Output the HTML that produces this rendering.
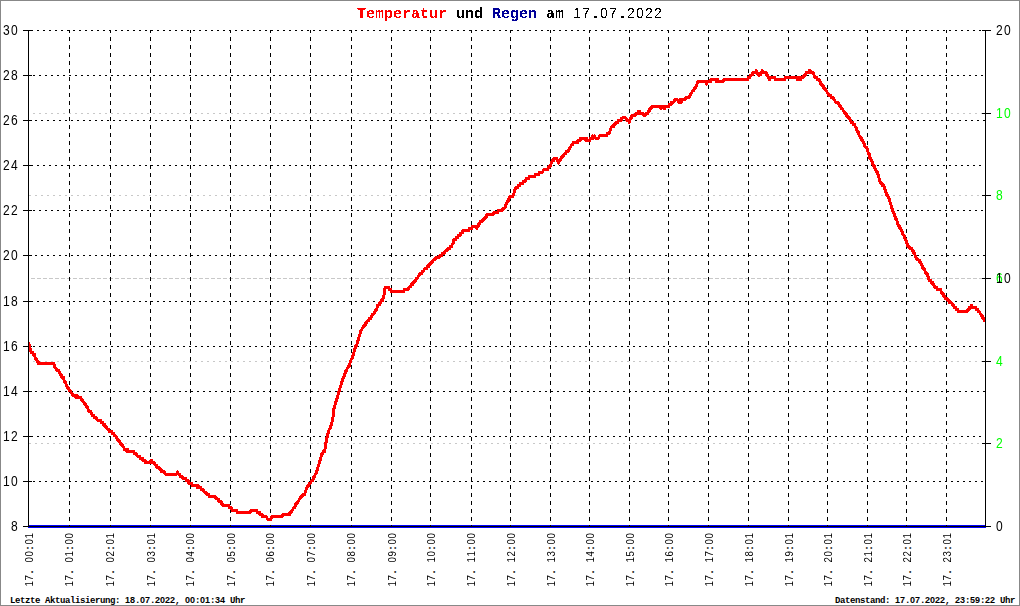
<!DOCTYPE html>
<html><head><meta charset="utf-8"><style>
html,body{margin:0;padding:0;background:#fff;}
#c{position:relative;width:1020px;height:606px;overflow:hidden;}
svg{position:absolute;left:0;top:0;}
.t{position:absolute;display:flex;align-items:baseline;white-space:pre;color:#000;}
.title{filter:url(#thr);}
.t span{display:block;text-align:left;flex:none;}
.m{font-family:"Liberation Mono",monospace;}
.d{font-family:"Liberation Sans",sans-serif;}
.yl{font-size:14px;line-height:16px;}
.yl span{transform:scaleX(0.86);transform-origin:0 0;}
.xl{font-size:11px;line-height:12px;}
.xl span.d{transform:scaleX(0.88);transform-origin:70% 0;}
.xl span.p{font-weight:bold;transform:none;text-align:center;}
.title{font-size:15px;line-height:18px;font-weight:bold;}
.title span.d{font-weight:normal;font-size:14px;}
.foot{font-size:9px;line-height:10px;font-weight:bold;}
.foot span.d{font-size:9px;}
</style></head><body><div id="c">
<svg width="0" height="0" style="position:absolute"><defs><filter id="thr" x="-10%" y="-10%" width="120%" height="120%" color-interpolation-filters="sRGB"><feComponentTransfer><feFuncA type="discrete" tableValues="0 1"/></feComponentTransfer></filter></defs></svg>
<svg width="1020" height="606" viewBox="0 0 1020 606" shape-rendering="crispEdges">
<rect x="0.5" y="0.5" width="1019" height="605" fill="#fff" stroke="#888" stroke-width="1"/>
<line x1="29" y1="113.5" x2="985" y2="113.5" stroke="#c8c8c8" stroke-dasharray="2 4" stroke-dashoffset="2"/>
<line x1="29" y1="195.5" x2="985" y2="195.5" stroke="#c8c8c8" stroke-dasharray="2 4" stroke-dashoffset="0"/>
<line x1="29" y1="278.5" x2="985" y2="278.5" stroke="#c8c8c8" stroke-dasharray="2 4" stroke-dashoffset="4"/>
<line x1="29" y1="278.5" x2="985" y2="278.5" stroke="#c8c8c8" stroke-dasharray="2 4" stroke-dashoffset="2"/>
<line x1="29" y1="361.5" x2="985" y2="361.5" stroke="#c8c8c8" stroke-dasharray="2 4" stroke-dashoffset="2"/>
<line x1="29" y1="443.5" x2="985" y2="443.5" stroke="#c8c8c8" stroke-dasharray="2 4" stroke-dashoffset="0"/>
<line x1="69.5" y1="30" x2="69.5" y2="526" stroke="#000" stroke-dasharray="4 4" stroke-dashoffset="1"/>
<line x1="110.5" y1="30" x2="110.5" y2="526" stroke="#000" stroke-dasharray="4 4" stroke-dashoffset="1"/>
<line x1="150.5" y1="30" x2="150.5" y2="526" stroke="#000" stroke-dasharray="4 4" stroke-dashoffset="1"/>
<line x1="190.5" y1="30" x2="190.5" y2="526" stroke="#000" stroke-dasharray="4 4" stroke-dashoffset="1"/>
<line x1="230.5" y1="30" x2="230.5" y2="526" stroke="#000" stroke-dasharray="4 4" stroke-dashoffset="1"/>
<line x1="270.5" y1="30" x2="270.5" y2="526" stroke="#000" stroke-dasharray="4 4" stroke-dashoffset="1"/>
<line x1="310.5" y1="30" x2="310.5" y2="526" stroke="#000" stroke-dasharray="4 4" stroke-dashoffset="1"/>
<line x1="351.5" y1="30" x2="351.5" y2="526" stroke="#000" stroke-dasharray="4 4" stroke-dashoffset="1"/>
<line x1="391.5" y1="30" x2="391.5" y2="526" stroke="#000" stroke-dasharray="4 4" stroke-dashoffset="1"/>
<line x1="430.5" y1="30" x2="430.5" y2="526" stroke="#000" stroke-dasharray="4 4" stroke-dashoffset="1"/>
<line x1="471.5" y1="30" x2="471.5" y2="526" stroke="#000" stroke-dasharray="4 4" stroke-dashoffset="1"/>
<line x1="510.5" y1="30" x2="510.5" y2="526" stroke="#000" stroke-dasharray="4 4" stroke-dashoffset="1"/>
<line x1="550.5" y1="30" x2="550.5" y2="526" stroke="#000" stroke-dasharray="4 4" stroke-dashoffset="1"/>
<line x1="589.5" y1="30" x2="589.5" y2="526" stroke="#000" stroke-dasharray="4 4" stroke-dashoffset="1"/>
<line x1="629.5" y1="30" x2="629.5" y2="526" stroke="#000" stroke-dasharray="4 4" stroke-dashoffset="1"/>
<line x1="668.5" y1="30" x2="668.5" y2="526" stroke="#000" stroke-dasharray="4 4" stroke-dashoffset="1"/>
<line x1="708.5" y1="30" x2="708.5" y2="526" stroke="#000" stroke-dasharray="4 4" stroke-dashoffset="1"/>
<line x1="748.5" y1="30" x2="748.5" y2="526" stroke="#000" stroke-dasharray="4 4" stroke-dashoffset="1"/>
<line x1="788.5" y1="30" x2="788.5" y2="526" stroke="#000" stroke-dasharray="4 4" stroke-dashoffset="1"/>
<line x1="827.5" y1="30" x2="827.5" y2="526" stroke="#000" stroke-dasharray="4 4" stroke-dashoffset="1"/>
<line x1="867.5" y1="30" x2="867.5" y2="526" stroke="#000" stroke-dasharray="4 4" stroke-dashoffset="1"/>
<line x1="906.5" y1="30" x2="906.5" y2="526" stroke="#000" stroke-dasharray="4 4" stroke-dashoffset="1"/>
<line x1="946.5" y1="30" x2="946.5" y2="526" stroke="#000" stroke-dasharray="4 4" stroke-dashoffset="1"/>
<line x1="29" y1="30.5" x2="985" y2="30.5" stroke="#000" stroke-dasharray="2 4" stroke-dashoffset="4"/>
<line x1="29" y1="75.5" x2="985" y2="75.5" stroke="#000" stroke-dasharray="2 4" stroke-dashoffset="2"/>
<line x1="29" y1="120.5" x2="985" y2="120.5" stroke="#000" stroke-dasharray="2 4" stroke-dashoffset="0"/>
<line x1="29" y1="165.5" x2="985" y2="165.5" stroke="#000" stroke-dasharray="2 4" stroke-dashoffset="4"/>
<line x1="29" y1="210.5" x2="985" y2="210.5" stroke="#000" stroke-dasharray="2 4" stroke-dashoffset="2"/>
<line x1="29" y1="255.5" x2="985" y2="255.5" stroke="#000" stroke-dasharray="2 4" stroke-dashoffset="0"/>
<line x1="29" y1="301.5" x2="985" y2="301.5" stroke="#000" stroke-dasharray="2 4" stroke-dashoffset="4"/>
<line x1="29" y1="346.5" x2="985" y2="346.5" stroke="#000" stroke-dasharray="2 4" stroke-dashoffset="2"/>
<line x1="29" y1="391.5" x2="985" y2="391.5" stroke="#000" stroke-dasharray="2 4" stroke-dashoffset="0"/>
<line x1="29" y1="436.5" x2="985" y2="436.5" stroke="#000" stroke-dasharray="2 4" stroke-dashoffset="4"/>
<line x1="29" y1="481.5" x2="985" y2="481.5" stroke="#000" stroke-dasharray="2 4" stroke-dashoffset="2"/>
<rect x="28" y="525" width="958" height="3" fill="#0000ff"/>
<line x1="28.5" y1="30" x2="28.5" y2="527" stroke="#000"/>
<line x1="985.5" y1="30" x2="985.5" y2="527" stroke="#000"/>
<line x1="28" y1="526.5" x2="986" y2="526.5" stroke="#000"/>
<line x1="23" y1="30.5" x2="32" y2="30.5" stroke="#000"/>
<line x1="23" y1="75.5" x2="32" y2="75.5" stroke="#000"/>
<line x1="23" y1="120.5" x2="32" y2="120.5" stroke="#000"/>
<line x1="23" y1="165.5" x2="32" y2="165.5" stroke="#000"/>
<line x1="23" y1="210.5" x2="32" y2="210.5" stroke="#000"/>
<line x1="23" y1="255.5" x2="32" y2="255.5" stroke="#000"/>
<line x1="23" y1="301.5" x2="32" y2="301.5" stroke="#000"/>
<line x1="23" y1="346.5" x2="32" y2="346.5" stroke="#000"/>
<line x1="23" y1="391.5" x2="32" y2="391.5" stroke="#000"/>
<line x1="23" y1="436.5" x2="32" y2="436.5" stroke="#000"/>
<line x1="23" y1="481.5" x2="32" y2="481.5" stroke="#000"/>
<line x1="23" y1="526.5" x2="32" y2="526.5" stroke="#000"/>
<line x1="982" y1="30.5" x2="991" y2="30.5" stroke="#000"/>
<line x1="982" y1="113.5" x2="991" y2="113.5" stroke="#000"/>
<line x1="982" y1="195.5" x2="991" y2="195.5" stroke="#000"/>
<line x1="982" y1="278.5" x2="991" y2="278.5" stroke="#000"/>
<line x1="982" y1="361.5" x2="991" y2="361.5" stroke="#000"/>
<line x1="982" y1="443.5" x2="991" y2="443.5" stroke="#000"/>
<line x1="982" y1="526.5" x2="991" y2="526.5" stroke="#000"/>
<line x1="69.5" y1="525" x2="69.5" y2="527" stroke="#000"/>
<line x1="110.5" y1="525" x2="110.5" y2="527" stroke="#000"/>
<line x1="150.5" y1="525" x2="150.5" y2="527" stroke="#000"/>
<line x1="190.5" y1="525" x2="190.5" y2="527" stroke="#000"/>
<line x1="230.5" y1="525" x2="230.5" y2="527" stroke="#000"/>
<line x1="270.5" y1="525" x2="270.5" y2="527" stroke="#000"/>
<line x1="310.5" y1="525" x2="310.5" y2="527" stroke="#000"/>
<line x1="351.5" y1="525" x2="351.5" y2="527" stroke="#000"/>
<line x1="391.5" y1="525" x2="391.5" y2="527" stroke="#000"/>
<line x1="430.5" y1="525" x2="430.5" y2="527" stroke="#000"/>
<line x1="471.5" y1="525" x2="471.5" y2="527" stroke="#000"/>
<line x1="510.5" y1="525" x2="510.5" y2="527" stroke="#000"/>
<line x1="550.5" y1="525" x2="550.5" y2="527" stroke="#000"/>
<line x1="589.5" y1="525" x2="589.5" y2="527" stroke="#000"/>
<line x1="629.5" y1="525" x2="629.5" y2="527" stroke="#000"/>
<line x1="668.5" y1="525" x2="668.5" y2="527" stroke="#000"/>
<line x1="708.5" y1="525" x2="708.5" y2="527" stroke="#000"/>
<line x1="748.5" y1="525" x2="748.5" y2="527" stroke="#000"/>
<line x1="788.5" y1="525" x2="788.5" y2="527" stroke="#000"/>
<line x1="827.5" y1="525" x2="827.5" y2="527" stroke="#000"/>
<line x1="867.5" y1="525" x2="867.5" y2="527" stroke="#000"/>
<line x1="906.5" y1="525" x2="906.5" y2="527" stroke="#000"/>
<line x1="946.5" y1="525" x2="946.5" y2="527" stroke="#000"/>
<clipPath id="pc"><rect x="29" y="30" width="956" height="496"/></clipPath>
<polyline clip-path="url(#pc)" points="28.00,343.38 28.67,343.38 29.33,345.64 30.00,347.89 30.66,350.15 31.33,352.40 31.99,352.40 32.66,352.40 33.32,354.65 33.99,354.65 34.65,354.65 35.32,359.16 35.98,359.16 36.65,359.16 37.31,361.42 37.98,361.42 38.64,363.67 39.31,363.67 39.97,363.67 40.64,363.67 41.30,363.67 41.97,363.67 42.63,363.67 43.30,363.67 43.96,363.67 44.63,363.67 45.29,363.67 45.96,363.67 46.62,363.67 47.29,363.67 47.95,363.67 48.62,363.67 49.28,363.67 49.95,363.67 50.61,363.67 51.28,363.67 51.94,363.67 52.61,363.67 53.27,363.67 53.94,363.67 54.60,365.93 55.27,368.18 55.93,368.18 56.60,370.44 57.26,370.44 57.93,370.44 58.59,370.44 59.26,372.69 59.92,372.69 60.59,374.95 61.25,374.95 61.92,377.20 62.58,377.20 63.25,377.20 63.91,379.45 64.58,381.71 65.24,381.71 65.91,383.96 66.57,386.22 67.24,386.22 67.90,388.47 68.57,388.47 69.23,390.73 69.90,390.73 70.56,390.73 71.23,392.98 71.89,392.98 72.56,395.24 73.22,395.24 73.89,395.24 74.55,395.24 75.22,395.24 75.88,397.49 76.55,397.49 77.21,395.24 77.88,397.49 78.54,397.49 79.21,397.49 79.87,397.49 80.54,397.49 81.20,399.75 81.87,399.75 82.53,399.75 83.20,402.00 83.86,402.00 84.53,404.25 85.19,404.25 85.86,404.25 86.52,406.51 87.19,406.51 87.85,408.76 88.52,411.02 89.18,411.02 89.85,411.02 90.51,411.02 91.18,413.27 91.84,413.27 92.51,415.53 93.17,415.53 93.84,415.53 94.50,417.78 95.17,417.78 95.83,417.78 96.50,417.78 97.16,420.04 97.83,420.04 98.49,420.04 99.16,420.04 99.82,420.04 100.49,420.04 101.15,422.29 101.82,422.29 102.49,422.29 103.15,424.55 103.82,424.55 104.48,424.55 105.15,426.80 105.81,426.80 106.48,426.80 107.14,429.05 107.81,429.05 108.47,429.05 109.14,431.31 109.80,431.31 110.47,431.31 111.13,431.31 111.80,431.31 112.46,433.56 113.13,433.56 113.79,433.56 114.46,435.82 115.12,435.82 115.79,435.82 116.45,438.07 117.12,438.07 117.78,440.33 118.45,440.33 119.11,440.33 119.78,442.58 120.44,442.58 121.11,444.84 121.77,444.84 122.44,444.84 123.10,447.09 123.77,447.09 124.43,449.35 125.10,449.35 125.76,449.35 126.43,449.35 127.09,451.60 127.76,449.35 128.42,451.60 129.09,451.60 129.75,451.60 130.42,451.60 131.08,451.60 131.75,451.60 132.41,451.60 133.08,451.60 133.74,451.60 134.41,453.85 135.07,453.85 135.74,453.85 136.40,453.85 137.07,456.11 137.73,456.11 138.40,456.11 139.06,456.11 139.73,456.11 140.39,458.36 141.06,458.36 141.72,458.36 142.39,458.36 143.05,460.62 143.72,460.62 144.38,460.62 145.05,460.62 145.71,462.87 146.38,462.87 147.04,462.87 147.71,462.87 148.37,462.87 149.04,462.87 149.70,462.87 150.37,462.87 151.03,460.62 151.70,460.62 152.36,462.87 153.03,462.87 153.69,462.87 154.36,462.87 155.02,465.13 155.69,465.13 156.35,465.13 157.02,467.38 157.68,467.38 158.35,467.38 159.01,467.38 159.68,469.64 160.34,469.64 161.01,469.64 161.67,471.89 162.34,471.89 163.00,471.89 163.67,471.89 164.33,471.89 165.00,474.15 165.66,474.15 166.33,474.15 166.99,474.15 167.66,474.15 168.32,474.15 168.99,474.15 169.65,474.15 170.32,474.15 170.98,474.15 171.65,474.15 172.31,474.15 172.98,474.15 173.64,474.15 174.31,474.15 174.97,474.15 175.64,474.15 176.31,474.15 176.97,474.15 177.64,471.89 178.30,474.15 178.97,474.15 179.63,474.15 180.30,476.40 180.96,476.40 181.63,476.40 182.29,476.40 182.96,478.65 183.62,478.65 184.29,478.65 184.95,478.65 185.62,478.65 186.28,480.91 186.95,480.91 187.61,480.91 188.28,480.91 188.94,483.16 189.61,483.16 190.27,483.16 190.94,483.16 191.60,483.16 192.27,485.42 192.93,485.42 193.60,485.42 194.26,485.42 194.93,485.42 195.59,485.42 196.26,485.42 196.92,485.42 197.59,487.67 198.25,485.42 198.92,487.67 199.58,487.67 200.25,487.67 200.91,487.67 201.58,489.93 202.24,489.93 202.91,489.93 203.57,489.93 204.24,492.18 204.90,492.18 205.57,492.18 206.23,492.18 206.90,494.44 207.56,494.44 208.23,494.44 208.89,494.44 209.56,496.69 210.22,496.69 210.89,496.69 211.55,496.69 212.22,496.69 212.88,496.69 213.55,496.69 214.21,496.69 214.88,496.69 215.54,496.69 216.21,498.95 216.87,498.95 217.54,498.95 218.20,498.95 218.87,501.20 219.53,501.20 220.20,501.20 220.86,501.20 221.53,503.45 222.19,503.45 222.86,505.71 223.52,505.71 224.19,505.71 224.85,505.71 225.52,505.71 226.18,505.71 226.85,505.71 227.51,505.71 228.18,505.71 228.84,505.71 229.51,507.96 230.17,507.96 230.84,507.96 231.50,507.96 232.17,510.22 232.83,510.22 233.50,510.22 234.16,510.22 234.83,510.22 235.49,510.22 236.16,510.22 236.82,510.22 237.49,512.47 238.15,512.47 238.82,512.47 239.48,512.47 240.15,512.47 240.81,512.47 241.48,512.47 242.14,512.47 242.81,512.47 243.47,512.47 244.14,512.47 244.80,512.47 245.47,512.47 246.13,512.47 246.80,512.47 247.46,512.47 248.13,512.47 248.79,512.47 249.46,512.47 250.13,512.47 250.79,510.22 251.46,510.22 252.12,510.22 252.79,510.22 253.45,510.22 254.12,510.22 254.78,510.22 255.45,510.22 256.11,510.22 256.78,510.22 257.44,512.47 258.11,512.47 258.77,512.47 259.44,512.47 260.10,514.73 260.77,514.73 261.43,514.73 262.10,514.73 262.76,516.98 263.43,516.98 264.09,516.98 264.76,516.98 265.42,516.98 266.09,516.98 266.75,516.98 267.42,519.24 268.08,519.24 268.75,519.24 269.41,519.24 270.08,519.24 270.74,519.24 271.41,516.98 272.07,516.98 272.74,516.98 273.40,516.98 274.07,516.98 274.73,516.98 275.40,516.98 276.06,516.98 276.73,516.98 277.39,516.98 278.06,516.98 278.72,516.98 279.39,516.98 280.05,516.98 280.72,516.98 281.38,516.98 282.05,516.98 282.71,514.73 283.38,514.73 284.04,514.73 284.71,514.73 285.37,514.73 286.04,514.73 286.70,514.73 287.37,514.73 288.03,514.73 288.70,514.73 289.36,514.73 290.03,512.47 290.69,512.47 291.36,512.47 292.02,510.22 292.69,510.22 293.35,507.96 294.02,507.96 294.68,507.96 295.35,505.71 296.01,503.45 296.68,503.45 297.34,503.45 298.01,501.20 298.67,501.20 299.34,498.95 300.00,498.95 300.67,496.69 301.33,496.69 302.00,496.69 302.66,494.44 303.33,494.44 303.99,494.44 304.66,494.44 305.32,492.18 305.99,489.93 306.65,487.67 307.32,487.67 307.98,485.42 308.65,485.42 309.31,483.16 309.98,483.16 310.64,483.16 311.31,480.91 311.97,480.91 312.64,480.91 313.30,478.65 313.97,476.40 314.63,476.40 315.30,474.15 315.96,474.15 316.63,471.89 317.29,469.64 317.96,467.38 318.62,465.13 319.29,462.87 319.95,460.62 320.62,458.36 321.28,456.11 321.95,453.85 322.62,453.85 323.28,451.60 323.95,451.60 324.61,451.60 325.28,447.09 325.94,442.58 326.61,440.33 327.27,435.82 327.94,433.56 328.60,431.31 329.27,429.05 329.93,429.05 330.60,426.80 331.26,424.55 331.93,422.29 332.59,420.04 333.26,415.53 333.92,408.76 334.59,406.51 335.25,404.25 335.92,402.00 336.58,399.75 337.25,397.49 337.91,395.24 338.58,392.98 339.24,390.73 339.91,388.47 340.57,386.22 341.24,383.96 341.90,381.71 342.57,379.45 343.23,377.20 343.90,377.20 344.56,374.95 345.23,372.69 345.89,370.44 346.56,370.44 347.22,368.18 347.89,368.18 348.55,365.93 349.22,365.93 349.88,363.67 350.55,361.42 351.21,359.16 351.88,359.16 352.54,356.91 353.21,354.65 353.87,352.40 354.54,350.15 355.20,347.89 355.87,345.64 356.53,345.64 357.20,343.38 357.86,341.13 358.53,338.87 359.19,336.62 359.86,334.36 360.52,332.11 361.19,329.85 361.85,329.85 362.52,327.60 363.18,327.60 363.85,325.35 364.51,325.35 365.18,325.35 365.84,323.09 366.51,323.09 367.17,320.84 367.84,320.84 368.50,320.84 369.17,318.58 369.83,318.58 370.50,318.58 371.16,316.33 371.83,316.33 372.49,314.07 373.16,314.07 373.82,314.07 374.49,311.82 375.15,311.82 375.82,309.56 376.48,309.56 377.15,307.31 377.81,305.05 378.48,305.05 379.14,305.05 379.81,302.80 380.47,302.80 381.14,300.55 381.80,300.55 382.47,300.55 383.13,298.29 383.80,296.04 384.46,291.53 385.13,287.02 385.79,287.02 386.46,287.02 387.12,287.02 387.79,287.02 388.45,287.02 389.12,289.27 389.78,289.27 390.45,289.27 391.11,291.53 391.78,291.53 392.44,291.53 393.11,291.53 393.77,291.53 394.44,291.53 395.10,291.53 395.77,291.53 396.44,291.53 397.10,291.53 397.77,291.53 398.43,291.53 399.10,291.53 399.76,291.53 400.43,291.53 401.09,291.53 401.76,291.53 402.42,291.53 403.09,291.53 403.75,291.53 404.42,289.27 405.08,289.27 405.75,289.27 406.41,289.27 407.08,289.27 407.74,289.27 408.41,289.27 409.07,287.02 409.74,287.02 410.40,287.02 411.07,284.76 411.73,284.76 412.40,284.76 413.06,282.51 413.73,282.51 414.39,282.51 415.06,280.25 415.72,280.25 416.39,278.00 417.05,278.00 417.72,278.00 418.38,275.75 419.05,275.75 419.71,273.49 420.38,273.49 421.04,273.49 421.71,273.49 422.37,271.24 423.04,271.24 423.70,271.24 424.37,268.98 425.03,268.98 425.70,268.98 426.36,268.98 427.03,266.73 427.69,266.73 428.36,266.73 429.02,264.47 429.69,264.47 430.35,264.47 431.02,262.22 431.68,262.22 432.35,262.22 433.01,259.96 433.68,259.96 434.34,259.96 435.01,259.96 435.67,257.71 436.34,257.71 437.00,257.71 437.67,257.71 438.33,257.71 439.00,257.71 439.66,255.45 440.33,255.45 440.99,255.45 441.66,255.45 442.32,253.20 442.99,253.20 443.65,253.20 444.32,253.20 444.98,250.95 445.65,250.95 446.31,250.95 446.98,250.95 447.64,248.69 448.31,248.69 448.97,248.69 449.64,248.69 450.30,246.44 450.97,246.44 451.63,246.44 452.30,244.18 452.96,244.18 453.63,239.67 454.29,239.67 454.96,239.67 455.62,239.67 456.29,237.42 456.95,237.42 457.62,237.42 458.28,235.16 458.95,235.16 459.61,235.16 460.28,235.16 460.94,232.91 461.61,232.91 462.27,232.91 462.94,230.65 463.60,230.65 464.27,230.65 464.93,230.65 465.60,230.65 466.26,230.65 466.93,230.65 467.59,230.65 468.26,230.65 468.92,230.65 469.59,228.40 470.26,228.40 470.92,228.40 471.59,228.40 472.25,226.15 472.92,226.15 473.58,226.15 474.25,226.15 474.91,226.15 475.58,226.15 476.24,226.15 476.91,228.40 477.57,226.15 478.24,226.15 478.90,223.89 479.57,223.89 480.23,221.64 480.90,221.64 481.56,221.64 482.23,221.64 482.89,219.38 483.56,219.38 484.22,219.38 484.89,217.13 485.55,217.13 486.22,217.13 486.88,214.87 487.55,214.87 488.21,214.87 488.88,214.87 489.54,214.87 490.21,214.87 490.87,214.87 491.54,214.87 492.20,214.87 492.87,214.87 493.53,212.62 494.20,212.62 494.86,212.62 495.53,212.62 496.19,212.62 496.86,212.62 497.52,212.62 498.19,210.36 498.85,210.36 499.52,210.36 500.18,210.36 500.85,210.36 501.51,210.36 502.18,210.36 502.84,208.11 503.51,208.11 504.17,208.11 504.84,208.11 505.50,205.85 506.17,203.60 506.83,203.60 507.50,201.35 508.16,201.35 508.83,199.09 509.49,196.84 510.16,196.84 510.82,196.84 511.49,196.84 512.15,196.84 512.82,196.84 513.48,194.58 514.15,192.33 514.81,190.07 515.48,187.82 516.14,187.82 516.81,187.82 517.47,187.82 518.14,185.56 518.80,185.56 519.47,185.56 520.13,183.31 520.80,183.31 521.46,183.31 522.13,183.31 522.79,183.31 523.46,181.05 524.12,181.05 524.79,181.05 525.45,181.05 526.12,178.80 526.78,178.80 527.45,178.80 528.11,178.80 528.78,178.80 529.44,176.55 530.11,176.55 530.77,176.55 531.44,176.55 532.10,176.55 532.77,176.55 533.43,176.55 534.10,176.55 534.76,176.55 535.43,174.29 536.09,174.29 536.76,174.29 537.42,174.29 538.09,174.29 538.75,174.29 539.42,172.04 540.08,172.04 540.75,172.04 541.41,172.04 542.08,172.04 542.74,172.04 543.41,169.78 544.08,169.78 544.74,169.78 545.41,169.78 546.07,169.78 546.74,169.78 547.40,169.78 548.07,167.53 548.73,167.53 549.40,167.53 550.06,165.27 550.73,165.27 551.39,163.02 552.06,160.76 552.72,160.76 553.39,160.76 554.05,158.51 554.72,158.51 555.38,158.51 556.05,158.51 556.71,158.51 557.38,160.76 558.04,160.76 558.71,163.02 559.37,160.76 560.04,160.76 560.70,158.51 561.37,158.51 562.03,156.25 562.70,156.25 563.36,156.25 564.03,154.00 564.69,154.00 565.36,154.00 566.02,151.75 566.69,151.75 567.35,151.75 568.02,151.75 568.68,149.49 569.35,149.49 570.01,147.24 570.68,147.24 571.34,144.98 572.01,144.98 572.67,144.98 573.34,142.73 574.00,142.73 574.67,142.73 575.33,142.73 576.00,142.73 576.66,142.73 577.33,142.73 577.99,140.47 578.66,140.47 579.32,140.47 579.99,140.47 580.65,138.22 581.32,138.22 581.98,138.22 582.65,138.22 583.31,138.22 583.98,138.22 584.64,138.22 585.31,138.22 585.97,140.47 586.64,138.22 587.30,140.47 587.97,140.47 588.63,140.47 589.30,140.47 589.96,140.47 590.63,138.22 591.29,138.22 591.96,138.22 592.62,135.96 593.29,138.22 593.95,135.96 594.62,135.96 595.28,138.22 595.95,138.22 596.61,138.22 597.28,138.22 597.94,138.22 598.61,138.22 599.27,135.96 599.94,135.96 600.60,135.96 601.27,135.96 601.93,135.96 602.60,135.96 603.26,135.96 603.93,135.96 604.59,135.96 605.26,135.96 605.92,135.96 606.59,135.96 607.25,133.71 607.92,133.71 608.58,133.71 609.25,133.71 609.91,131.45 610.58,129.20 611.24,126.95 611.91,126.95 612.57,126.95 613.24,126.95 613.90,124.69 614.57,124.69 615.23,124.69 615.90,122.44 616.56,122.44 617.23,122.44 617.90,122.44 618.56,120.18 619.23,120.18 619.89,120.18 620.56,120.18 621.22,120.18 621.89,117.93 622.55,117.93 623.22,117.93 623.88,117.93 624.55,117.93 625.21,117.93 625.88,117.93 626.54,120.18 627.21,120.18 627.87,120.18 628.54,120.18 629.20,122.44 629.87,120.18 630.53,117.93 631.20,117.93 631.86,115.67 632.53,115.67 633.19,115.67 633.86,115.67 634.52,115.67 635.19,115.67 635.85,113.42 636.52,113.42 637.18,113.42 637.85,113.42 638.51,111.16 639.18,111.16 639.84,111.16 640.51,113.42 641.17,113.42 641.84,113.42 642.50,113.42 643.17,113.42 643.83,115.67 644.50,115.67 645.16,115.67 645.83,113.42 646.49,113.42 647.16,113.42 647.82,113.42 648.49,111.16 649.15,111.16 649.82,108.91 650.48,108.91 651.15,108.91 651.81,106.65 652.48,106.65 653.14,106.65 653.81,106.65 654.47,106.65 655.14,106.65 655.80,106.65 656.47,106.65 657.13,106.65 657.80,106.65 658.46,106.65 659.13,106.65 659.79,106.65 660.46,106.65 661.12,108.91 661.79,106.65 662.45,106.65 663.12,106.65 663.78,106.65 664.45,108.91 665.11,106.65 665.78,106.65 666.44,106.65 667.11,106.65 667.77,106.65 668.44,106.65 669.10,104.40 669.77,104.40 670.43,104.40 671.10,104.40 671.76,102.15 672.43,102.15 673.09,102.15 673.76,102.15 674.42,99.89 675.09,99.89 675.75,99.89 676.42,99.89 677.08,99.89 677.75,99.89 678.41,102.15 679.08,102.15 679.74,99.89 680.41,99.89 681.07,102.15 681.74,99.89 682.40,99.89 683.07,99.89 683.73,99.89 684.40,99.89 685.06,99.89 685.73,97.64 686.39,97.64 687.06,97.64 687.72,97.64 688.39,97.64 689.05,97.64 689.72,95.38 690.38,95.38 691.05,93.13 691.72,93.13 692.38,90.87 693.05,90.87 693.71,90.87 694.38,88.62 695.04,88.62 695.71,86.36 696.37,86.36 697.04,84.11 697.70,81.85 698.37,81.85 699.03,81.85 699.70,81.85 700.36,81.85 701.03,81.85 701.69,81.85 702.36,81.85 703.02,81.85 703.69,81.85 704.35,81.85 705.02,81.85 705.68,81.85 706.35,84.11 707.01,81.85 707.68,81.85 708.34,81.85 709.01,81.85 709.67,81.85 710.34,81.85 711.00,79.60 711.67,79.60 712.33,79.60 713.00,79.60 713.66,79.60 714.33,79.60 714.99,79.60 715.66,79.60 716.32,81.85 716.99,79.60 717.65,79.60 718.32,81.85 718.98,81.85 719.65,81.85 720.31,81.85 720.98,81.85 721.64,81.85 722.31,81.85 722.97,81.85 723.64,79.60 724.30,79.60 724.97,79.60 725.63,79.60 726.30,79.60 726.96,79.60 727.63,79.60 728.29,79.60 728.96,79.60 729.62,79.60 730.29,79.60 730.95,79.60 731.62,79.60 732.28,79.60 732.95,79.60 733.61,79.60 734.28,79.60 734.94,79.60 735.61,79.60 736.27,79.60 736.94,79.60 737.60,79.60 738.27,79.60 738.93,79.60 739.60,79.60 740.26,79.60 740.93,79.60 741.59,79.60 742.26,79.60 742.92,79.60 743.59,79.60 744.25,79.60 744.92,79.60 745.58,79.60 746.25,79.60 746.91,79.60 747.58,79.60 748.24,77.35 748.91,77.35 749.57,77.35 750.24,75.09 750.90,75.09 751.57,75.09 752.23,75.09 752.90,72.84 753.56,72.84 754.23,72.84 754.89,72.84 755.56,72.84 756.22,70.58 756.89,72.84 757.55,72.84 758.22,75.09 758.88,75.09 759.55,75.09 760.21,75.09 760.88,72.84 761.54,72.84 762.21,70.58 762.87,72.84 763.54,72.84 764.21,72.84 764.87,72.84 765.54,72.84 766.20,72.84 766.87,75.09 767.53,75.09 768.20,77.35 768.86,77.35 769.53,79.60 770.19,77.35 770.86,77.35 771.52,77.35 772.19,77.35 772.85,77.35 773.52,77.35 774.18,77.35 774.85,77.35 775.51,79.60 776.18,79.60 776.84,79.60 777.51,79.60 778.17,79.60 778.84,79.60 779.50,79.60 780.17,79.60 780.83,79.60 781.50,79.60 782.16,79.60 782.83,79.60 783.49,79.60 784.16,79.60 784.82,79.60 785.49,77.35 786.15,77.35 786.82,77.35 787.48,77.35 788.15,77.35 788.81,77.35 789.48,77.35 790.14,77.35 790.81,77.35 791.47,77.35 792.14,77.35 792.80,77.35 793.47,77.35 794.13,77.35 794.80,77.35 795.46,77.35 796.13,77.35 796.79,77.35 797.46,79.60 798.12,79.60 798.79,77.35 799.45,79.60 800.12,77.35 800.78,79.60 801.45,77.35 802.11,77.35 802.78,77.35 803.44,77.35 804.11,75.09 804.77,75.09 805.44,75.09 806.10,72.84 806.77,72.84 807.43,72.84 808.10,72.84 808.76,72.84 809.43,70.58 810.09,70.58 810.76,72.84 811.42,72.84 812.09,72.84 812.75,72.84 813.42,72.84 814.08,75.09 814.75,77.35 815.41,77.35 816.08,77.35 816.74,77.35 817.41,79.60 818.07,79.60 818.74,79.60 819.40,79.60 820.07,81.85 820.73,84.11 821.40,84.11 822.06,84.11 822.73,86.36 823.39,86.36 824.06,88.62 824.72,88.62 825.39,88.62 826.05,90.87 826.72,90.87 827.38,93.13 828.05,93.13 828.71,95.38 829.38,95.38 830.04,95.38 830.71,95.38 831.37,97.64 832.04,97.64 832.70,97.64 833.37,97.64 834.03,99.89 834.70,99.89 835.36,102.15 836.03,102.15 836.69,102.15 837.36,102.15 838.03,102.15 838.69,104.40 839.36,104.40 840.02,106.65 840.69,106.65 841.35,108.91 842.02,108.91 842.68,108.91 843.35,111.16 844.01,111.16 844.68,113.42 845.34,113.42 846.01,113.42 846.67,115.67 847.34,115.67 848.00,117.93 848.67,117.93 849.33,117.93 850.00,120.18 850.66,120.18 851.33,122.44 851.99,122.44 852.66,122.44 853.32,124.69 853.99,124.69 854.65,124.69 855.32,126.95 855.98,126.95 856.65,129.20 857.31,131.45 857.98,131.45 858.64,133.71 859.31,135.96 859.97,135.96 860.64,138.22 861.30,138.22 861.97,140.47 862.63,140.47 863.30,142.73 863.96,142.73 864.63,144.98 865.29,147.24 865.96,147.24 866.62,147.24 867.29,149.49 867.95,151.75 868.62,154.00 869.28,154.00 869.95,158.51 870.61,158.51 871.28,160.76 871.94,160.76 872.61,163.02 873.27,165.27 873.94,165.27 874.60,167.53 875.27,169.78 875.93,169.78 876.60,172.04 877.26,172.04 877.93,174.29 878.59,176.55 879.26,178.80 879.92,181.05 880.59,183.31 881.25,183.31 881.92,183.31 882.58,185.56 883.25,185.56 883.91,185.56 884.58,187.82 885.24,190.07 885.91,192.33 886.57,194.58 887.24,194.58 887.90,196.84 888.57,196.84 889.23,199.09 889.90,201.35 890.56,203.60 891.23,205.85 891.89,208.11 892.56,210.36 893.22,212.62 893.89,212.62 894.55,214.87 895.22,217.13 895.88,219.38 896.55,219.38 897.21,221.64 897.88,223.89 898.54,226.15 899.21,226.15 899.87,228.40 900.54,228.40 901.20,230.65 901.87,230.65 902.53,232.91 903.20,235.16 903.86,235.16 904.53,237.42 905.19,239.67 905.86,239.67 906.52,241.93 907.19,244.18 907.85,246.44 908.52,246.44 909.18,246.44 909.85,248.69 910.51,248.69 911.18,248.69 911.85,248.69 912.51,250.95 913.18,250.95 913.84,253.20 914.51,253.20 915.17,255.45 915.84,257.71 916.50,257.71 917.17,259.96 917.83,259.96 918.50,259.96 919.16,259.96 919.83,262.22 920.49,262.22 921.16,264.47 921.82,264.47 922.49,266.73 923.15,268.98 923.82,268.98 924.48,268.98 925.15,271.24 925.81,273.49 926.48,273.49 927.14,273.49 927.81,275.75 928.47,278.00 929.14,280.25 929.80,280.25 930.47,280.25 931.13,282.51 931.80,282.51 932.46,282.51 933.13,284.76 933.79,284.76 934.46,287.02 935.12,287.02 935.79,287.02 936.45,287.02 937.12,289.27 937.78,289.27 938.45,289.27 939.11,289.27 939.78,289.27 940.44,289.27 941.11,291.53 941.77,293.78 942.44,293.78 943.10,293.78 943.77,296.04 944.43,296.04 945.10,298.29 945.76,298.29 946.43,298.29 947.09,298.29 947.76,300.55 948.42,300.55 949.09,300.55 949.75,302.80 950.42,302.80 951.08,302.80 951.75,302.80 952.41,305.05 953.08,305.05 953.74,305.05 954.41,307.31 955.07,307.31 955.74,307.31 956.40,309.56 957.07,309.56 957.73,309.56 958.40,311.82 959.06,311.82 959.73,311.82 960.39,311.82 961.06,311.82 961.72,311.82 962.39,311.82 963.05,311.82 963.72,311.82 964.38,311.82 965.05,311.82 965.71,311.82 966.38,311.82 967.04,311.82 967.71,309.56 968.37,309.56 969.04,309.56 969.70,307.31 970.37,307.31 971.03,307.31 971.70,305.05 972.36,307.31 973.03,307.31 973.69,307.31 974.36,307.31 975.02,307.31 975.69,307.31 976.35,309.56 977.02,309.56 977.68,309.56 978.35,311.82 979.01,311.82 979.68,311.82 980.34,314.07 981.01,314.07 981.67,316.33 982.34,316.33 983.00,318.58 983.67,318.58 984.33,320.84 985.00,320.84" fill="none" stroke="#ff0000" stroke-width="3" stroke-linejoin="round" shape-rendering="crispEdges"/>
</svg>
<div class="t yl" style="left:3px;top:22px;height:16px;"><span class="d" style="width:8px">3</span><span class="d" style="width:8px">0</span></div>
<div class="t yl" style="left:3px;top:67px;height:16px;"><span class="d" style="width:8px">2</span><span class="d" style="width:8px">8</span></div>
<div class="t yl" style="left:3px;top:112px;height:16px;"><span class="d" style="width:8px">2</span><span class="d" style="width:8px">6</span></div>
<div class="t yl" style="left:3px;top:157px;height:16px;"><span class="d" style="width:8px">2</span><span class="d" style="width:8px">4</span></div>
<div class="t yl" style="left:3px;top:202px;height:16px;"><span class="d" style="width:8px">2</span><span class="d" style="width:8px">2</span></div>
<div class="t yl" style="left:3px;top:247px;height:16px;"><span class="d" style="width:8px">2</span><span class="d" style="width:8px">0</span></div>
<div class="t yl" style="left:3px;top:293px;height:16px;"><span class="d" style="width:8px">1</span><span class="d" style="width:8px">8</span></div>
<div class="t yl" style="left:3px;top:338px;height:16px;"><span class="d" style="width:8px">1</span><span class="d" style="width:8px">6</span></div>
<div class="t yl" style="left:3px;top:383px;height:16px;"><span class="d" style="width:8px">1</span><span class="d" style="width:8px">4</span></div>
<div class="t yl" style="left:3px;top:428px;height:16px;"><span class="d" style="width:8px">1</span><span class="d" style="width:8px">2</span></div>
<div class="t yl" style="left:3px;top:473px;height:16px;"><span class="d" style="width:8px">1</span><span class="d" style="width:8px">0</span></div>
<div class="t yl" style="left:11px;top:518px;height:16px;"><span class="d" style="width:8px">8</span></div>
<div class="t yl" style="left:996px;top:435px;height:16px;color:#00ff00;"><span class="d" style="width:8px">2</span></div>
<div class="t yl" style="left:996px;top:353px;height:16px;color:#00ff00;"><span class="d" style="width:8px">4</span></div>
<div class="t yl" style="left:996px;top:270px;height:16px;color:#00ff00;"><span class="d" style="width:8px">6</span></div>
<div class="t yl" style="left:996px;top:187px;height:16px;color:#00ff00;"><span class="d" style="width:8px">8</span></div>
<div class="t yl" style="left:996px;top:105px;height:16px;color:#00ff00;"><span class="d" style="width:8px">1</span><span class="d" style="width:8px">0</span></div>
<div class="t yl" style="left:996px;top:270px;height:16px;"><span class="d" style="width:8px">1</span><span class="d" style="width:8px">0</span></div>
<div class="t yl" style="left:996px;top:22px;height:16px;"><span class="d" style="width:8px">2</span><span class="d" style="width:8px">0</span></div>
<div class="t yl" style="left:996px;top:518px;height:16px;"><span class="d" style="width:8px">0</span></div>
<div class="t xl" style="left:2px;top:554px;height:12px;transform:rotate(-90deg);transform-origin:27px 6px;width:54px;"><span class="d" style="width:6px">1</span><span class="d" style="width:6px">7</span><span class="d p" style="width:6px">.</span><span class="m" style="width:6px">&nbsp;</span><span class="d" style="width:6px">0</span><span class="d" style="width:6px">0</span><span class="d p" style="width:6px">:</span><span class="d" style="width:6px">0</span><span class="d" style="width:6px">1</span></div>
<div class="t xl" style="left:42px;top:554px;height:12px;transform:rotate(-90deg);transform-origin:27px 6px;width:54px;"><span class="d" style="width:6px">1</span><span class="d" style="width:6px">7</span><span class="d p" style="width:6px">.</span><span class="m" style="width:6px">&nbsp;</span><span class="d" style="width:6px">0</span><span class="d" style="width:6px">1</span><span class="d p" style="width:6px">:</span><span class="d" style="width:6px">0</span><span class="d" style="width:6px">0</span></div>
<div class="t xl" style="left:83px;top:554px;height:12px;transform:rotate(-90deg);transform-origin:27px 6px;width:54px;"><span class="d" style="width:6px">1</span><span class="d" style="width:6px">7</span><span class="d p" style="width:6px">.</span><span class="m" style="width:6px">&nbsp;</span><span class="d" style="width:6px">0</span><span class="d" style="width:6px">2</span><span class="d p" style="width:6px">:</span><span class="d" style="width:6px">0</span><span class="d" style="width:6px">1</span></div>
<div class="t xl" style="left:124px;top:554px;height:12px;transform:rotate(-90deg);transform-origin:27px 6px;width:54px;"><span class="d" style="width:6px">1</span><span class="d" style="width:6px">7</span><span class="d p" style="width:6px">.</span><span class="m" style="width:6px">&nbsp;</span><span class="d" style="width:6px">0</span><span class="d" style="width:6px">3</span><span class="d p" style="width:6px">:</span><span class="d" style="width:6px">0</span><span class="d" style="width:6px">1</span></div>
<div class="t xl" style="left:163px;top:554px;height:12px;transform:rotate(-90deg);transform-origin:27px 6px;width:54px;"><span class="d" style="width:6px">1</span><span class="d" style="width:6px">7</span><span class="d p" style="width:6px">.</span><span class="m" style="width:6px">&nbsp;</span><span class="d" style="width:6px">0</span><span class="d" style="width:6px">4</span><span class="d p" style="width:6px">:</span><span class="d" style="width:6px">0</span><span class="d" style="width:6px">0</span></div>
<div class="t xl" style="left:204px;top:554px;height:12px;transform:rotate(-90deg);transform-origin:27px 6px;width:54px;"><span class="d" style="width:6px">1</span><span class="d" style="width:6px">7</span><span class="d p" style="width:6px">.</span><span class="m" style="width:6px">&nbsp;</span><span class="d" style="width:6px">0</span><span class="d" style="width:6px">5</span><span class="d p" style="width:6px">:</span><span class="d" style="width:6px">0</span><span class="d" style="width:6px">0</span></div>
<div class="t xl" style="left:243px;top:554px;height:12px;transform:rotate(-90deg);transform-origin:27px 6px;width:54px;"><span class="d" style="width:6px">1</span><span class="d" style="width:6px">7</span><span class="d p" style="width:6px">.</span><span class="m" style="width:6px">&nbsp;</span><span class="d" style="width:6px">0</span><span class="d" style="width:6px">6</span><span class="d p" style="width:6px">:</span><span class="d" style="width:6px">0</span><span class="d" style="width:6px">0</span></div>
<div class="t xl" style="left:284px;top:554px;height:12px;transform:rotate(-90deg);transform-origin:27px 6px;width:54px;"><span class="d" style="width:6px">1</span><span class="d" style="width:6px">7</span><span class="d p" style="width:6px">.</span><span class="m" style="width:6px">&nbsp;</span><span class="d" style="width:6px">0</span><span class="d" style="width:6px">7</span><span class="d p" style="width:6px">:</span><span class="d" style="width:6px">0</span><span class="d" style="width:6px">0</span></div>
<div class="t xl" style="left:324px;top:554px;height:12px;transform:rotate(-90deg);transform-origin:27px 6px;width:54px;"><span class="d" style="width:6px">1</span><span class="d" style="width:6px">7</span><span class="d p" style="width:6px">.</span><span class="m" style="width:6px">&nbsp;</span><span class="d" style="width:6px">0</span><span class="d" style="width:6px">8</span><span class="d p" style="width:6px">:</span><span class="d" style="width:6px">0</span><span class="d" style="width:6px">0</span></div>
<div class="t xl" style="left:365px;top:554px;height:12px;transform:rotate(-90deg);transform-origin:27px 6px;width:54px;"><span class="d" style="width:6px">1</span><span class="d" style="width:6px">7</span><span class="d p" style="width:6px">.</span><span class="m" style="width:6px">&nbsp;</span><span class="d" style="width:6px">0</span><span class="d" style="width:6px">9</span><span class="d p" style="width:6px">:</span><span class="d" style="width:6px">0</span><span class="d" style="width:6px">0</span></div>
<div class="t xl" style="left:404px;top:554px;height:12px;transform:rotate(-90deg);transform-origin:27px 6px;width:54px;"><span class="d" style="width:6px">1</span><span class="d" style="width:6px">7</span><span class="d p" style="width:6px">.</span><span class="m" style="width:6px">&nbsp;</span><span class="d" style="width:6px">1</span><span class="d" style="width:6px">0</span><span class="d p" style="width:6px">:</span><span class="d" style="width:6px">0</span><span class="d" style="width:6px">0</span></div>
<div class="t xl" style="left:444px;top:554px;height:12px;transform:rotate(-90deg);transform-origin:27px 6px;width:54px;"><span class="d" style="width:6px">1</span><span class="d" style="width:6px">7</span><span class="d p" style="width:6px">.</span><span class="m" style="width:6px">&nbsp;</span><span class="d" style="width:6px">1</span><span class="d" style="width:6px">1</span><span class="d p" style="width:6px">:</span><span class="d" style="width:6px">0</span><span class="d" style="width:6px">0</span></div>
<div class="t xl" style="left:484px;top:554px;height:12px;transform:rotate(-90deg);transform-origin:27px 6px;width:54px;"><span class="d" style="width:6px">1</span><span class="d" style="width:6px">7</span><span class="d p" style="width:6px">.</span><span class="m" style="width:6px">&nbsp;</span><span class="d" style="width:6px">1</span><span class="d" style="width:6px">2</span><span class="d p" style="width:6px">:</span><span class="d" style="width:6px">0</span><span class="d" style="width:6px">0</span></div>
<div class="t xl" style="left:524px;top:554px;height:12px;transform:rotate(-90deg);transform-origin:27px 6px;width:54px;"><span class="d" style="width:6px">1</span><span class="d" style="width:6px">7</span><span class="d p" style="width:6px">.</span><span class="m" style="width:6px">&nbsp;</span><span class="d" style="width:6px">1</span><span class="d" style="width:6px">3</span><span class="d p" style="width:6px">:</span><span class="d" style="width:6px">0</span><span class="d" style="width:6px">0</span></div>
<div class="t xl" style="left:563px;top:554px;height:12px;transform:rotate(-90deg);transform-origin:27px 6px;width:54px;"><span class="d" style="width:6px">1</span><span class="d" style="width:6px">7</span><span class="d p" style="width:6px">.</span><span class="m" style="width:6px">&nbsp;</span><span class="d" style="width:6px">1</span><span class="d" style="width:6px">4</span><span class="d p" style="width:6px">:</span><span class="d" style="width:6px">0</span><span class="d" style="width:6px">0</span></div>
<div class="t xl" style="left:603px;top:554px;height:12px;transform:rotate(-90deg);transform-origin:27px 6px;width:54px;"><span class="d" style="width:6px">1</span><span class="d" style="width:6px">7</span><span class="d p" style="width:6px">.</span><span class="m" style="width:6px">&nbsp;</span><span class="d" style="width:6px">1</span><span class="d" style="width:6px">5</span><span class="d p" style="width:6px">:</span><span class="d" style="width:6px">0</span><span class="d" style="width:6px">0</span></div>
<div class="t xl" style="left:642px;top:554px;height:12px;transform:rotate(-90deg);transform-origin:27px 6px;width:54px;"><span class="d" style="width:6px">1</span><span class="d" style="width:6px">7</span><span class="d p" style="width:6px">.</span><span class="m" style="width:6px">&nbsp;</span><span class="d" style="width:6px">1</span><span class="d" style="width:6px">6</span><span class="d p" style="width:6px">:</span><span class="d" style="width:6px">0</span><span class="d" style="width:6px">0</span></div>
<div class="t xl" style="left:682px;top:554px;height:12px;transform:rotate(-90deg);transform-origin:27px 6px;width:54px;"><span class="d" style="width:6px">1</span><span class="d" style="width:6px">7</span><span class="d p" style="width:6px">.</span><span class="m" style="width:6px">&nbsp;</span><span class="d" style="width:6px">1</span><span class="d" style="width:6px">7</span><span class="d p" style="width:6px">:</span><span class="d" style="width:6px">0</span><span class="d" style="width:6px">0</span></div>
<div class="t xl" style="left:722px;top:554px;height:12px;transform:rotate(-90deg);transform-origin:27px 6px;width:54px;"><span class="d" style="width:6px">1</span><span class="d" style="width:6px">7</span><span class="d p" style="width:6px">.</span><span class="m" style="width:6px">&nbsp;</span><span class="d" style="width:6px">1</span><span class="d" style="width:6px">8</span><span class="d p" style="width:6px">:</span><span class="d" style="width:6px">0</span><span class="d" style="width:6px">1</span></div>
<div class="t xl" style="left:762px;top:554px;height:12px;transform:rotate(-90deg);transform-origin:27px 6px;width:54px;"><span class="d" style="width:6px">1</span><span class="d" style="width:6px">7</span><span class="d p" style="width:6px">.</span><span class="m" style="width:6px">&nbsp;</span><span class="d" style="width:6px">1</span><span class="d" style="width:6px">9</span><span class="d p" style="width:6px">:</span><span class="d" style="width:6px">0</span><span class="d" style="width:6px">1</span></div>
<div class="t xl" style="left:801px;top:554px;height:12px;transform:rotate(-90deg);transform-origin:27px 6px;width:54px;"><span class="d" style="width:6px">1</span><span class="d" style="width:6px">7</span><span class="d p" style="width:6px">.</span><span class="m" style="width:6px">&nbsp;</span><span class="d" style="width:6px">2</span><span class="d" style="width:6px">0</span><span class="d p" style="width:6px">:</span><span class="d" style="width:6px">0</span><span class="d" style="width:6px">1</span></div>
<div class="t xl" style="left:841px;top:554px;height:12px;transform:rotate(-90deg);transform-origin:27px 6px;width:54px;"><span class="d" style="width:6px">1</span><span class="d" style="width:6px">7</span><span class="d p" style="width:6px">.</span><span class="m" style="width:6px">&nbsp;</span><span class="d" style="width:6px">2</span><span class="d" style="width:6px">1</span><span class="d p" style="width:6px">:</span><span class="d" style="width:6px">0</span><span class="d" style="width:6px">1</span></div>
<div class="t xl" style="left:880px;top:554px;height:12px;transform:rotate(-90deg);transform-origin:27px 6px;width:54px;"><span class="d" style="width:6px">1</span><span class="d" style="width:6px">7</span><span class="d p" style="width:6px">.</span><span class="m" style="width:6px">&nbsp;</span><span class="d" style="width:6px">2</span><span class="d" style="width:6px">2</span><span class="d p" style="width:6px">:</span><span class="d" style="width:6px">0</span><span class="d" style="width:6px">1</span></div>
<div class="t xl" style="left:920px;top:554px;height:12px;transform:rotate(-90deg);transform-origin:27px 6px;width:54px;"><span class="d" style="width:6px">1</span><span class="d" style="width:6px">7</span><span class="d p" style="width:6px">.</span><span class="m" style="width:6px">&nbsp;</span><span class="d" style="width:6px">2</span><span class="d" style="width:6px">3</span><span class="d p" style="width:6px">:</span><span class="d" style="width:6px">0</span><span class="d" style="width:6px">1</span></div>
<div class="t title" style="left:357px;top:4px;height:18px;"><span class="m" style="width:9px;color:#ff0000">T</span><span class="m" style="width:9px;color:#ff0000">e</span><span class="m" style="width:9px;color:#ff0000">m</span><span class="m" style="width:9px;color:#ff0000">p</span><span class="m" style="width:9px;color:#ff0000">e</span><span class="m" style="width:9px;color:#ff0000">r</span><span class="m" style="width:9px;color:#ff0000">a</span><span class="m" style="width:9px;color:#ff0000">t</span><span class="m" style="width:9px;color:#ff0000">u</span><span class="m" style="width:9px;color:#ff0000">r</span><span class="m" style="width:9px">&nbsp;</span><span class="m" style="width:9px">u</span><span class="m" style="width:9px">n</span><span class="m" style="width:9px">d</span><span class="m" style="width:9px">&nbsp;</span><span class="m" style="width:9px;color:#000099">R</span><span class="m" style="width:9px;color:#000099">e</span><span class="m" style="width:9px;color:#000099">g</span><span class="m" style="width:9px;color:#000099">e</span><span class="m" style="width:9px;color:#000099">n</span><span class="m" style="width:9px">&nbsp;</span><span class="m" style="width:9px">a</span><span class="m" style="width:9px">m</span><span class="m" style="width:9px">&nbsp;</span><span class="d" style="width:9px">1</span><span class="d" style="width:9px">7</span><span class="m" style="width:9px">.</span><span class="d" style="width:9px">0</span><span class="d" style="width:9px">7</span><span class="m" style="width:9px">.</span><span class="d" style="width:9px">2</span><span class="d" style="width:9px">0</span><span class="d" style="width:9px">2</span><span class="d" style="width:9px">2</span></div>
<div class="t foot" style="left:10px;top:595px;height:10px;"><span class="m" style="width:5px">L</span><span class="m" style="width:5px">e</span><span class="m" style="width:5px">t</span><span class="m" style="width:5px">z</span><span class="m" style="width:5px">t</span><span class="m" style="width:5px">e</span><span class="m" style="width:5px">&nbsp;</span><span class="m" style="width:5px">A</span><span class="m" style="width:5px">k</span><span class="m" style="width:5px">t</span><span class="m" style="width:5px">u</span><span class="m" style="width:5px">a</span><span class="m" style="width:5px">l</span><span class="m" style="width:5px">i</span><span class="m" style="width:5px">s</span><span class="m" style="width:5px">i</span><span class="m" style="width:5px">e</span><span class="m" style="width:5px">r</span><span class="m" style="width:5px">u</span><span class="m" style="width:5px">n</span><span class="m" style="width:5px">g</span><span class="m" style="width:5px">:</span><span class="m" style="width:5px">&nbsp;</span><span class="d" style="width:5px">1</span><span class="d" style="width:5px">8</span><span class="m" style="width:5px">.</span><span class="d" style="width:5px">0</span><span class="d" style="width:5px">7</span><span class="m" style="width:5px">.</span><span class="d" style="width:5px">2</span><span class="d" style="width:5px">0</span><span class="d" style="width:5px">2</span><span class="d" style="width:5px">2</span><span class="m" style="width:5px">,</span><span class="m" style="width:5px">&nbsp;</span><span class="d" style="width:5px">0</span><span class="d" style="width:5px">0</span><span class="m" style="width:5px">:</span><span class="d" style="width:5px">0</span><span class="d" style="width:5px">1</span><span class="m" style="width:5px">:</span><span class="d" style="width:5px">3</span><span class="d" style="width:5px">4</span><span class="m" style="width:5px">&nbsp;</span><span class="m" style="width:5px">U</span><span class="m" style="width:5px">h</span><span class="m" style="width:5px">r</span></div>
<div class="t foot" style="left:835px;top:595px;height:10px;"><span class="m" style="width:5px">D</span><span class="m" style="width:5px">a</span><span class="m" style="width:5px">t</span><span class="m" style="width:5px">e</span><span class="m" style="width:5px">n</span><span class="m" style="width:5px">s</span><span class="m" style="width:5px">t</span><span class="m" style="width:5px">a</span><span class="m" style="width:5px">n</span><span class="m" style="width:5px">d</span><span class="m" style="width:5px">:</span><span class="m" style="width:5px">&nbsp;</span><span class="d" style="width:5px">1</span><span class="d" style="width:5px">7</span><span class="m" style="width:5px">.</span><span class="d" style="width:5px">0</span><span class="d" style="width:5px">7</span><span class="m" style="width:5px">.</span><span class="d" style="width:5px">2</span><span class="d" style="width:5px">0</span><span class="d" style="width:5px">2</span><span class="d" style="width:5px">2</span><span class="m" style="width:5px">,</span><span class="m" style="width:5px">&nbsp;</span><span class="d" style="width:5px">2</span><span class="d" style="width:5px">3</span><span class="m" style="width:5px">:</span><span class="d" style="width:5px">5</span><span class="d" style="width:5px">9</span><span class="m" style="width:5px">:</span><span class="d" style="width:5px">2</span><span class="d" style="width:5px">2</span><span class="m" style="width:5px">&nbsp;</span><span class="m" style="width:5px">U</span><span class="m" style="width:5px">h</span><span class="m" style="width:5px">r</span></div>
</div></body></html>
